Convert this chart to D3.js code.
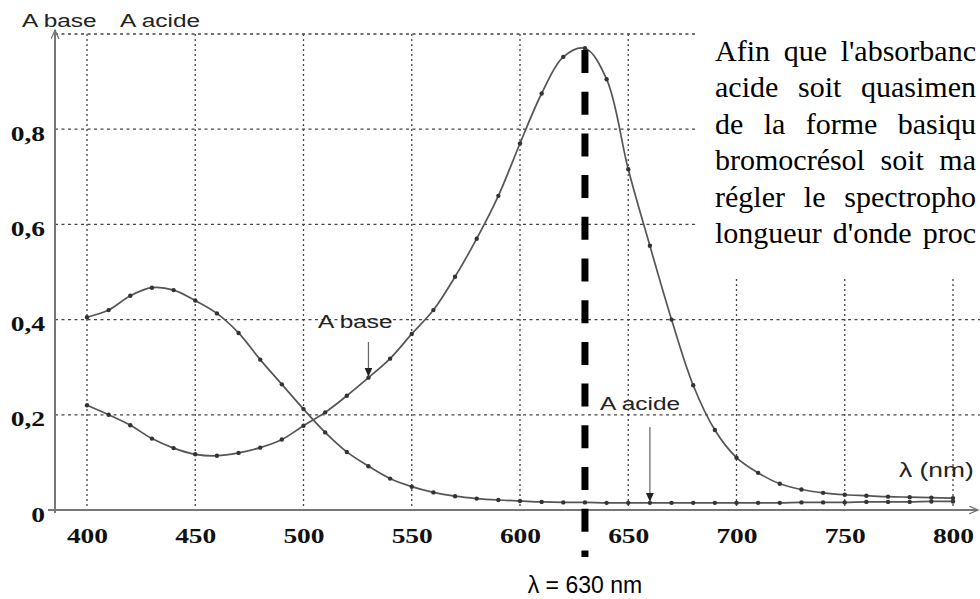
<!DOCTYPE html>
<html>
<head>
<meta charset="utf-8">
<script src="https://cdn.jsdelivr.net/npm/d3@7"></script>
<style>
    body { margin: 0; background: #fff; }
    svg { display: block; }
</style>
</head>
<body>
<div id="graphique"></div>
<script>
const lambda = [400, 410, 420, 430, 440, 450, 460, 470, 480, 490,
                500, 510, 520, 530, 540, 550, 560, 570, 580, 590,
                600, 610, 620, 630, 640, 650, 660, 670, 680, 690,
                700, 710, 720, 730, 740, 750, 760, 770, 780, 790, 800];

const aBase = [0.22, 0.20, 0.178, 0.15, 0.13, 0.117, 0.114, 0.12, 0.131, 0.148,
               0.177, 0.205, 0.24, 0.278, 0.318, 0.37, 0.42, 0.49, 0.57, 0.66,
               0.77, 0.875, 0.952, 0.97, 0.905, 0.716, 0.555, 0.40, 0.262, 0.168,
               0.11, 0.078, 0.055, 0.043, 0.036, 0.032, 0.03, 0.028, 0.027, 0.026, 0.025];

const aAcide = [0.405, 0.42, 0.45, 0.467, 0.462, 0.44, 0.413, 0.372, 0.316, 0.264,
                0.212, 0.163, 0.122, 0.092, 0.066, 0.049, 0.037, 0.029, 0.024, 0.021,
                0.019, 0.017, 0.016, 0.016, 0.015, 0.015, 0.015, 0.015, 0.015, 0.015,
                0.015, 0.015, 0.015, 0.016, 0.016, 0.016, 0.017, 0.017, 0.017, 0.018, 0.018];

const xTicks = [400, 450, 500, 550, 600, 650, 700, 750, 800];
const yTicks = [0, 0.2, 0.4, 0.6, 0.8];
const yLabels = ["0", "0,2", "0,4", "0,6", "0,8"];
const gridY = [0.2, 0.4, 0.6, 0.8, 1.0];
const lambdaChoisie = 630;

// enonce tel qu'il apparait (coupe par le bord droit sur l'original)
const texteLignes = [
    "Afin que l'absorbanc",
    "acide soit quasimen",
    "de la forme basiqu",
    "bromocrésol soit ma",
    "régler le spectropho",
    "longueur d'onde proc"
];

const width = 980, height = 599;

const svg = d3.select("#graphique").append("svg")
    .attr("width", width)
    .attr("height", height);

const x = d3.scaleLinear().domain([400, 800]).range([87, 953]);
const y = d3.scaleLinear().domain([0, 1]).range([510, 34]);
const x0 = 55; // axe des ordonnees

const defs = svg.append("defs");
defs.append("marker")
    .attr("id", "fleche")
    .attr("markerUnits", "userSpaceOnUse")
    .attr("markerWidth", 10).attr("markerHeight", 10)
    .attr("refX", 9).attr("refY", 4)
    .attr("orient", "auto")
    .append("path")
    .attr("d", "M0,0 L9,4 L0,8 z")
    .attr("fill", "#222");
defs.append("marker")
    .attr("id", "flecheAxe")
    .attr("markerUnits", "userSpaceOnUse")
    .attr("markerWidth", 12).attr("markerHeight", 12)
    .attr("refX", 9).attr("refY", 4)
    .attr("orient", "auto")
    .append("path")
    .attr("d", "M0,0 L9,4 L0,8")
    .attr("fill", "none")
    .attr("stroke", "#777")
    .attr("stroke-width", 1.3);

// quadrillage vertical
svg.selectAll(".grille-v")
    .data(xTicks)
    .enter()
    .append("line")
    .attr("class", "grille-v")
    .attr("x1", d => x(d)).attr("x2", d => x(d))
    .attr("y1", y(1)).attr("y2", y(0))
    .style("stroke", "#444")
    .style("stroke-width", 1.3)
    .style("stroke-dasharray", "2,3");

// quadrillage horizontal
svg.selectAll(".grille-h")
    .data(gridY)
    .enter()
    .append("line")
    .attr("class", "grille-h")
    .attr("x1", x0).attr("x2", width)
    .attr("y1", d => y(d)).attr("y2", d => y(d))
    .style("stroke", "#444")
    .style("stroke-width", 1.3)
    .style("stroke-dasharray", "3,3.5");

// cache blanc sous le texte
svg.append("rect")
    .attr("x", 697).attr("y", 0)
    .attr("width", width - 697).attr("height", 277)
    .attr("fill", "#fff");

// axes avec fleches
svg.append("line")
    .attr("x1", 48).attr("y1", y(0))
    .attr("x2", 978).attr("y2", y(0))
    .attr("stroke", "#777").attr("stroke-width", 2)
    .attr("marker-end", "url(#flecheAxe)");
svg.append("line")
    .attr("x1", x0).attr("y1", y(0) + 3)
    .attr("x2", x0).attr("y2", 30)
    .attr("stroke", "#777").attr("stroke-width", 2)
    .attr("marker-end", "url(#flecheAxe)");

// graduations
svg.append("g")
    .attr("transform", `translate(0,${y(0)})`)
    .call(d3.axisBottom(x).tickValues(xTicks).tickSize(0).tickFormat(d3.format("d")))
    .call(g => g.select(".domain").remove())
    .selectAll("text")
    .attr("y", 33)
    .attr("dy", null)
    .attr("transform", "scale(1.25,1)")
    .style("font-family", "'Liberation Serif', 'Times New Roman', serif")
    .style("font-weight", "bold")
    .style("font-size", "22px")
    .style("fill", "#111");

svg.append("g")
    .attr("transform", `translate(${x0},0)`)
    .call(d3.axisLeft(y).tickValues(yTicks).tickSize(0).tickFormat((d, i) => yLabels[i]))
    .call(g => g.select(".domain").remove())
    .selectAll("text")
    .attr("x", -8)
    .attr("y", 11)
    .attr("dy", null)
    .attr("transform", "scale(1.25,1)")
    .style("font-family", "'Liberation Serif', 'Times New Roman', serif")
    .style("font-weight", "bold")
    .style("font-size", "22px")
    .style("fill", "#111");

// courbes
const ligne = serie => d3.line()
    .x((d, i) => x(lambda[i]))
    .y(d => y(d))
    .curve(d3.curveCatmullRom.alpha(0.5))(serie);

[aBase, aAcide].forEach(serie => {
    svg.append("path")
        .attr("d", ligne(serie))
        .attr("fill", "none")
        .attr("stroke", "#555")
        .attr("stroke-width", 1.7);

    svg.selectAll(null)
        .data(serie)
        .enter()
        .append("circle")
        .attr("cx", (d, i) => x(lambda[i]))
        .attr("cy", d => y(d))
        .attr("r", 2.2)
        .attr("fill", "#333");
});

// trait pointille lambda = 630 nm
svg.append("line")
    .attr("x1", x(lambdaChoisie)).attr("x2", x(lambdaChoisie))
    .attr("y1", 50).attr("y2", 557)
    .attr("stroke", "#000")
    .attr("stroke-width", 7)
    .attr("stroke-dasharray", "23,18.7");

svg.append("text")
    .attr("x", x(lambdaChoisie))
    .attr("y", 593)
    .attr("text-anchor", "middle")
    .style("font-family", "'Liberation Sans', Arial, sans-serif")
    .style("font-size", "23px")
    .style("fill", "#000")
    .text("λ = " + lambdaChoisie + " nm");

// etiquettes etirees (comme sur le scan)
function etiquette(txt, px, py, taille) {
    svg.append("text")
        .attr("transform", `translate(${px},${py}) scale(1.32,1)`)
        .style("font-family", "'Liberation Sans', Arial, sans-serif")
        .style("font-size", taille + "px")
        .style("fill", "#222")
        .text(txt);
}
etiquette("A base", 22, 27, 18.5);
etiquette("A acide", 120, 27, 18.5);
etiquette("A base", 318, 328, 18.5);
etiquette("A acide", 600, 410, 18.5);
etiquette("λ (nm)", 899, 477, 20);

// fleches vers les courbes
svg.append("line")
    .attr("x1", x(530)).attr("y1", 342)
    .attr("x2", x(530)).attr("y2", y(aBase[lambda.indexOf(530)]) - 1)
    .attr("stroke", "#666").attr("stroke-width", 1.2)
    .attr("marker-end", "url(#fleche)");
svg.append("line")
    .attr("x1", x(660)).attr("y1", 427)
    .attr("x2", x(660)).attr("y2", y(aAcide[lambda.indexOf(660)]) - 1)
    .attr("stroke", "#666").attr("stroke-width", 1.2)
    .attr("marker-end", "url(#fleche)");

// texte de l'enonce, justifie jusqu'au bord droit (sans deborder)
svg.append("g")
    .selectAll("text")
    .data(texteLignes)
    .enter()
    .append("text")
    .attr("x", 715)
    .attr("y", (d, i) => 61 + i * 36.4)
    .style("font-family", "'Liberation Serif', 'Times New Roman', serif")
    .style("font-size", "30px")
    .style("fill", "#000")
    .text(d => d)
    .each(function(d) {
        const nb = d.split(" ").length - 1;
        const ecart = (976 - 715 - this.getComputedTextLength()) / nb;
        d3.select(this).style("word-spacing", Math.max(0, ecart) + "px");
    });
</script>
</body>
</html>
